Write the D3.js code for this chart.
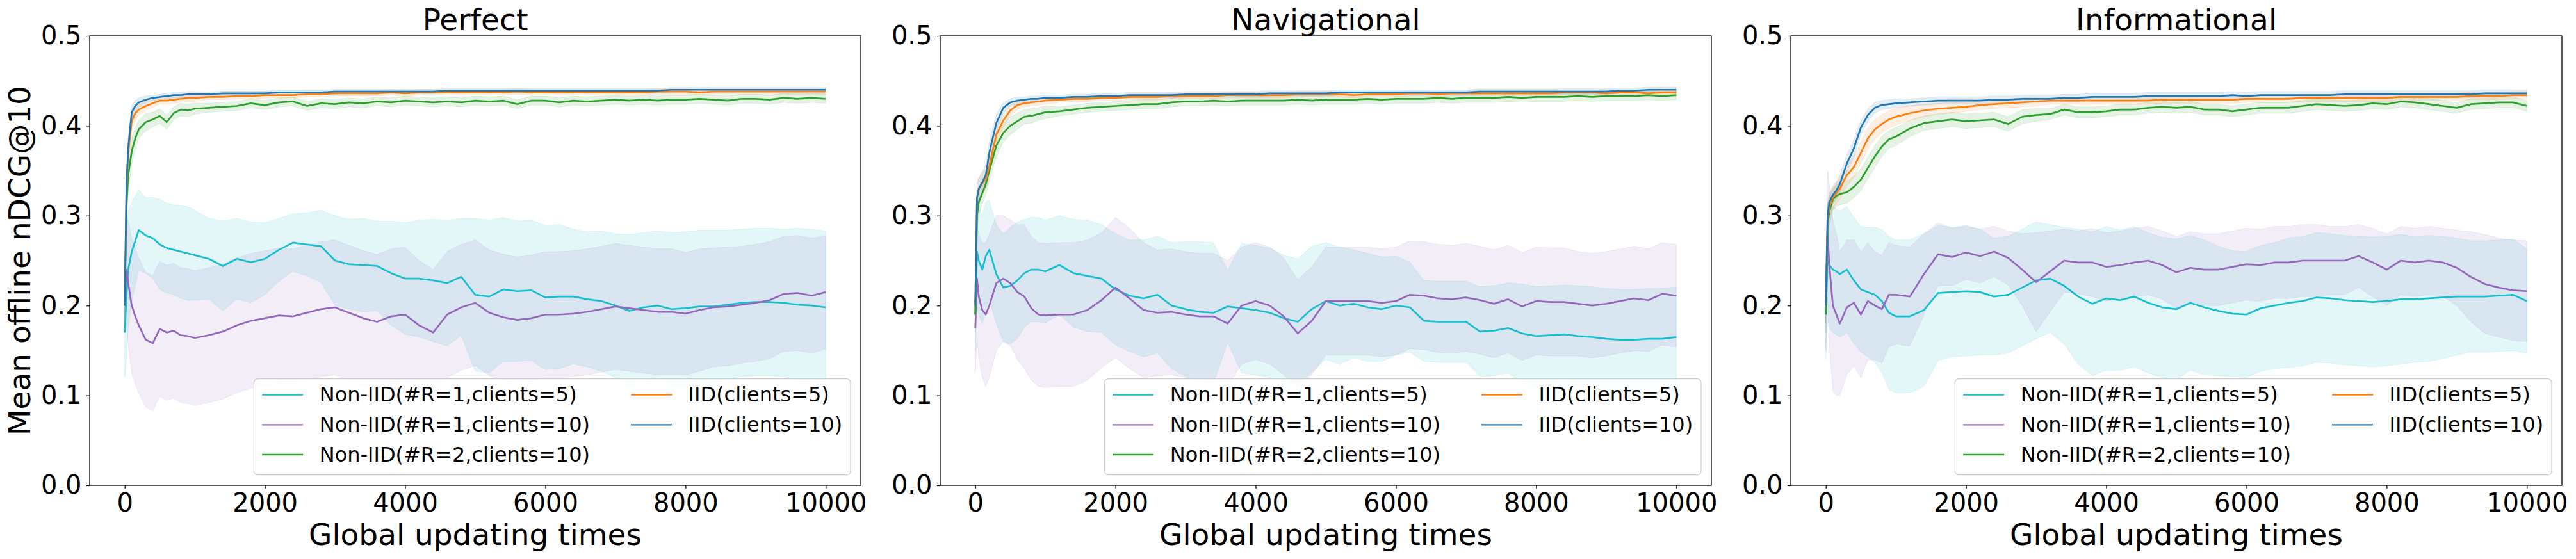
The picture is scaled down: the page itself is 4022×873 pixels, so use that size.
<!DOCTYPE html>
<html><head><meta charset="utf-8">
<script src="https://cdn.jsdelivr.net/npm/d3@7"></script>
<style>
body{margin:0;background:#fff}
svg{display:block}
text{font-family:"DejaVu Sans",sans-serif;fill:#000}
</style>
</head><body>
<svg id="chart" width="4022" height="873"></svg>
<script>
// ---------------- DATA ----------------
const gridX = [0,25,50,100,150,200,300,400,500,600,700,800,900,1000,
 1200,1400,1600,1800,2000,2200,2400,2600,2800,3000,
 3200,3400,3600,3800,4000,4200,4400,4600,4800,5000,
 5200,5400,5600,5800,6000,6200,6400,6600,6800,7000,
 7200,7400,7600,7800,8000,8200,8400,8600,8800,9000,
 9200,9400,9600,9800,10000];

const xTicks = [0,2000,4000,6000,8000,10000];
const yTicks = [0.0,0.1,0.2,0.3,0.4,0.5];
const panelTitles = ["Perfect","Navigational","Informational"];
const seriesLabels = ["Non-IID(#R=1,clients=5)","Non-IID(#R=1,clients=10)","Non-IID(#R=2,clients=10)","IID(clients=5)","IID(clients=10)"];
const seriesColors = ["#17becf","#9467bd","#2ca02c","#ff7f0e","#1f77b4"];

// ---- Perfect ----
const perf_c5_mean = [0.170,0.210,0.240,0.260,0.272,0.284,0.278,0.275,0.268,0.264,0.262,0.260,0.258,0.256,
 0.252,0.244,0.252,0.248,0.252,0.262,0.270,0.268,0.266,0.250,
 0.246,0.245,0.244,0.236,0.230,0.230,0.228,0.225,0.232,0.212,
 0.210,0.218,0.216,0.217,0.209,0.210,0.210,0.207,0.205,0.200,
 0.194,0.198,0.200,0.196,0.197,0.199,0.199,0.201,0.203,0.204,
 0.204,0.203,0.201,0.200,0.198];
const perf_c5_sd = [0.050,0.070,0.065,0.055,0.050,0.045,0.042,0.045,0.050,0.050,0.050,0.052,0.052,0.050,
 0.045,0.050,0.045,0.045,0.040,0.035,0.032,0.035,0.040,0.050,
 0.050,0.052,0.050,0.058,0.062,0.065,0.068,0.070,0.065,0.085,
 0.085,0.080,0.078,0.078,0.080,0.080,0.075,0.075,0.078,0.080,
 0.085,0.083,0.083,0.085,0.085,0.085,0.085,0.083,0.082,0.082,
 0.082,0.082,0.085,0.085,0.085];
const perf_r1c10_mean = [0.200,0.240,0.225,0.200,0.188,0.178,0.162,0.158,0.174,0.170,0.172,0.167,0.166,0.164,
 0.167,0.171,0.178,0.183,0.186,0.189,0.188,0.192,0.196,0.198,
 0.192,0.186,0.182,0.188,0.190,0.178,0.170,0.190,0.198,0.203,
 0.192,0.187,0.184,0.186,0.190,0.190,0.191,0.193,0.196,0.199,
 0.197,0.195,0.193,0.193,0.191,0.195,0.198,0.199,0.201,0.203,
 0.206,0.213,0.214,0.211,0.215];
const perf_r1c10_sd = [0.030,0.060,0.070,0.075,0.075,0.075,0.075,0.075,0.075,0.075,0.075,0.075,0.075,0.075,
 0.075,0.075,0.075,0.075,0.075,0.075,0.075,0.075,0.075,0.075,
 0.075,0.075,0.075,0.075,0.075,0.072,0.070,0.070,0.070,0.070,
 0.070,0.070,0.070,0.070,0.070,0.070,0.070,0.070,0.070,0.070,
 0.070,0.070,0.070,0.070,0.068,0.068,0.066,0.066,0.065,0.065,
 0.065,0.064,0.064,0.064,0.063];
const perf_r2c10_mean = [0.200,0.310,0.345,0.372,0.386,0.396,0.404,0.407,0.411,0.404,0.414,0.418,0.417,0.419,
 0.420,0.421,0.422,0.425,0.423,0.426,0.427,0.422,0.425,0.424,
 0.426,0.425,0.427,0.426,0.428,0.427,0.426,0.427,0.426,0.428,
 0.427,0.428,0.424,0.428,0.428,0.426,0.428,0.427,0.428,0.429,
 0.428,0.429,0.428,0.429,0.429,0.430,0.429,0.428,0.430,0.430,
 0.429,0.431,0.430,0.431,0.430];
const perf_r2c10_sd = [0.020,0.025,0.020,0.015,0.012,0.010,0.010,0.008,0.008,0.008,0.007,0.007,0.007,0.006,
 0.005,0.005,0.005,0.005,0.005,0.005,0.005,0.005,0.005,0.005,
 0.005,0.005,0.005,0.005,0.005,0.005,0.005,0.005,0.005,0.005,
 0.005,0.005,0.005,0.005,0.005,0.005,0.005,0.005,0.005,0.005,
 0.005,0.005,0.005,0.005,0.005,0.005,0.005,0.005,0.005,0.005,
 0.005,0.005,0.005,0.005,0.005];
const perf_iid5_mean = [0.200,0.330,0.370,0.405,0.414,0.418,0.422,0.425,0.428,0.428,0.429,0.430,0.431,0.431,
 0.432,0.432,0.433,0.433,0.434,0.434,0.434,0.435,0.435,0.436,
 0.436,0.436,0.436,0.437,0.436,0.437,0.437,0.437,0.437,0.437,
 0.437,0.437,0.438,0.437,0.437,0.437,0.437,0.437,0.437,0.437,
 0.437,0.437,0.438,0.438,0.438,0.437,0.438,0.438,0.438,0.438,
 0.438,0.438,0.438,0.438,0.438];
const perf_iid5_sd = [0.015,0.020,0.015,0.010,0.008,0.006,0.005,0.004,0.004,0.004,0.004,0.004,0.004,0.004,
 0.003,0.003,0.003,0.003,0.003,0.003,0.003,0.003,0.003,0.003,
 0.003,0.003,0.003,0.003,0.003,0.003,0.003,0.003,0.003,0.003,
 0.003,0.003,0.003,0.003,0.003,0.003,0.003,0.003,0.003,0.003,
 0.003,0.003,0.003,0.003,0.003,0.003,0.003,0.003,0.003,0.003,
 0.003,0.003,0.003,0.003,0.003];
const perf_iid10_mean = [0.200,0.335,0.375,0.415,0.422,0.426,0.429,0.431,0.432,0.433,0.434,0.434,0.435,0.435,
 0.435,0.436,0.436,0.436,0.436,0.437,0.437,0.437,0.437,0.438,
 0.438,0.438,0.438,0.438,0.438,0.438,0.438,0.439,0.439,0.439,
 0.439,0.439,0.439,0.439,0.439,0.439,0.439,0.439,0.439,0.439,
 0.439,0.439,0.439,0.440,0.440,0.440,0.440,0.440,0.440,0.440,
 0.440,0.440,0.440,0.440,0.440];
const perf_iid10_sd = [0.012,0.015,0.012,0.008,0.006,0.005,0.004,0.003,0.003,0.003,0.003,0.003,0.003,0.003,
 0.0025,0.0025,0.0025,0.0025,0.0025,0.0025,0.0025,0.0025,0.0025,0.0025,
 0.0025,0.0025,0.0025,0.0025,0.0025,0.0025,0.0025,0.0025,0.0025,0.0025,
 0.0025,0.0025,0.0025,0.0025,0.0025,0.0025,0.0025,0.0025,0.0025,0.0025,
 0.0025,0.0025,0.0025,0.0025,0.0025,0.0025,0.0025,0.0025,0.0025,0.0025,
 0.0025,0.0025,0.0025,0.0025,0.0025];

// ---- Navigational ----
const nav_c5_mean = [0.190,0.260,0.250,0.240,0.255,0.262,0.235,0.220,0.222,0.228,0.236,0.240,0.240,0.238,
 0.245,0.236,0.233,0.230,0.218,0.211,0.208,0.212,0.200,0.196,
 0.193,0.192,0.199,0.197,0.195,0.192,0.186,0.182,0.196,0.205,
 0.200,0.202,0.198,0.196,0.200,0.198,0.183,0.182,0.182,0.182,
 0.171,0.172,0.175,0.169,0.166,0.167,0.168,0.166,0.165,0.163,
 0.162,0.162,0.163,0.163,0.165];
const nav_c5_sd = [0.040,0.060,0.060,0.060,0.060,0.055,0.055,0.060,0.065,0.065,0.060,0.058,0.058,0.057,
 0.055,0.060,0.062,0.060,0.062,0.062,0.065,0.065,0.070,0.075,
 0.078,0.078,0.040,0.072,0.072,0.072,0.070,0.070,0.070,0.065,
 0.065,0.060,0.060,0.058,0.055,0.050,0.045,0.045,0.045,0.045,
 0.050,0.050,0.050,0.055,0.055,0.055,0.055,0.056,0.056,0.056,
 0.056,0.056,0.056,0.056,0.056];
const nav_r1c10_mean = [0.175,0.230,0.210,0.195,0.190,0.200,0.225,0.230,0.225,0.215,0.210,0.197,0.190,0.189,
 0.190,0.190,0.195,0.206,0.220,0.208,0.195,0.192,0.193,0.190,
 0.188,0.188,0.180,0.200,0.205,0.200,0.188,0.169,0.183,0.205,
 0.205,0.205,0.205,0.203,0.205,0.212,0.211,0.208,0.207,0.209,
 0.206,0.202,0.207,0.199,0.205,0.204,0.204,0.202,0.200,0.202,
 0.205,0.208,0.206,0.213,0.211];
const nav_r1c10_sd = [0.050,0.060,0.070,0.075,0.080,0.080,0.075,0.070,0.070,0.075,0.080,0.080,0.080,0.080,
 0.080,0.080,0.078,0.075,0.078,0.078,0.075,0.070,0.070,0.070,
 0.070,0.070,0.070,0.065,0.065,0.065,0.065,0.060,0.060,0.060,
 0.060,0.060,0.060,0.060,0.060,0.060,0.060,0.060,0.060,0.060,
 0.060,0.060,0.060,0.060,0.060,0.060,0.060,0.058,0.058,0.058,
 0.058,0.058,0.057,0.057,0.057];
const nav_r2c10_mean = [0.190,0.300,0.315,0.325,0.335,0.350,0.378,0.392,0.400,0.405,0.410,0.411,0.413,0.415,
 0.416,0.418,0.420,0.421,0.422,0.423,0.424,0.424,0.426,0.427,
 0.427,0.428,0.427,0.428,0.428,0.428,0.428,0.429,0.428,0.429,
 0.429,0.429,0.430,0.429,0.430,0.430,0.430,0.431,0.430,0.431,
 0.431,0.431,0.432,0.431,0.432,0.432,0.432,0.433,0.432,0.433,
 0.433,0.433,0.434,0.433,0.434];
const nav_r2c10_sd = [0.020,0.020,0.015,0.012,0.012,0.012,0.012,0.010,0.010,0.009,0.008,0.008,0.007,0.007,
 0.005,0.005,0.005,0.005,0.005,0.005,0.005,0.005,0.005,0.005,
 0.005,0.005,0.005,0.005,0.005,0.005,0.005,0.005,0.005,0.005,
 0.005,0.005,0.005,0.005,0.005,0.005,0.005,0.005,0.005,0.005,
 0.005,0.005,0.005,0.005,0.005,0.005,0.005,0.005,0.005,0.005,
 0.005,0.005,0.005,0.005,0.005];
const nav_iid5_mean = [0.200,0.320,0.330,0.336,0.340,0.355,0.390,0.406,0.417,0.423,0.425,0.426,0.427,0.428,
 0.429,0.430,0.430,0.431,0.431,0.432,0.432,0.432,0.433,0.433,
 0.433,0.433,0.434,0.434,0.434,0.434,0.434,0.435,0.435,0.435,
 0.435,0.434,0.435,0.435,0.435,0.436,0.436,0.435,0.436,0.436,
 0.436,0.436,0.436,0.436,0.436,0.436,0.437,0.437,0.437,0.436,
 0.437,0.437,0.436,0.437,0.437];
const nav_iid5_sd = [0.020,0.015,0.012,0.012,0.012,0.012,0.010,0.008,0.006,0.005,0.004,0.004,0.004,0.004,
 0.003,0.003,0.003,0.003,0.003,0.003,0.003,0.003,0.003,0.003,
 0.003,0.003,0.003,0.003,0.003,0.003,0.003,0.003,0.003,0.003,
 0.003,0.003,0.003,0.003,0.003,0.003,0.003,0.003,0.003,0.003,
 0.003,0.003,0.003,0.003,0.003,0.003,0.003,0.003,0.003,0.003,
 0.003,0.003,0.003,0.003,0.003];
const nav_iid10_mean = [0.200,0.320,0.330,0.337,0.345,0.370,0.403,0.420,0.426,0.428,0.429,0.430,0.430,0.431,
 0.431,0.432,0.432,0.433,0.433,0.434,0.434,0.434,0.434,0.435,
 0.435,0.435,0.435,0.435,0.435,0.436,0.436,0.436,0.436,0.436,
 0.437,0.437,0.437,0.437,0.437,0.437,0.437,0.437,0.437,0.437,
 0.438,0.438,0.438,0.438,0.438,0.438,0.438,0.438,0.438,0.438,
 0.439,0.439,0.440,0.440,0.440];
const nav_iid10_sd = [0.020,0.015,0.012,0.012,0.012,0.012,0.010,0.006,0.004,0.004,0.003,0.003,0.003,0.003,
 0.003,0.003,0.003,0.003,0.003,0.003,0.003,0.003,0.003,0.003,
 0.003,0.003,0.003,0.003,0.003,0.003,0.003,0.003,0.003,0.003,
 0.003,0.003,0.003,0.003,0.003,0.003,0.003,0.003,0.003,0.003,
 0.003,0.003,0.003,0.003,0.003,0.003,0.003,0.003,0.003,0.003,
 0.003,0.003,0.003,0.003,0.003];

// ---- Informational ----
const inf_c5_mean = [0.190,0.250,0.245,0.240,0.238,0.235,0.240,0.228,0.218,0.215,0.212,0.205,0.192,0.188,
 0.188,0.195,0.214,0.215,0.216,0.215,0.210,0.212,0.220,0.228,
 0.230,0.222,0.210,0.202,0.208,0.206,0.210,0.203,0.198,0.196,
 0.203,0.198,0.194,0.191,0.190,0.197,0.200,0.203,0.205,0.209,
 0.208,0.206,0.205,0.204,0.205,0.207,0.207,0.208,0.209,0.210,
 0.210,0.210,0.211,0.212,0.205];
const inf_c5_sd = [0.050,0.065,0.070,0.070,0.070,0.070,0.070,0.070,0.070,0.072,0.075,0.080,0.085,0.085,
 0.085,0.085,0.075,0.072,0.072,0.070,0.065,0.065,0.065,0.065,
 0.060,0.065,0.075,0.080,0.080,0.078,0.078,0.078,0.078,0.078,
 0.075,0.075,0.072,0.070,0.070,0.070,0.070,0.072,0.072,0.072,
 0.072,0.072,0.072,0.072,0.072,0.072,0.070,0.070,0.068,0.065,
 0.062,0.062,0.062,0.062,0.058];
const inf_r1c10_mean = [0.200,0.280,0.245,0.200,0.190,0.180,0.198,0.203,0.190,0.205,0.200,0.196,0.212,0.212,
 0.210,0.235,0.257,0.254,0.259,0.255,0.260,0.253,0.240,0.226,
 0.238,0.250,0.248,0.248,0.243,0.245,0.248,0.250,0.245,0.237,
 0.242,0.240,0.240,0.243,0.246,0.245,0.248,0.248,0.250,0.250,
 0.250,0.250,0.255,0.248,0.240,0.250,0.248,0.250,0.248,0.242,
 0.232,0.224,0.220,0.217,0.216];
const inf_r1c10_sd = [0.050,0.070,0.090,0.095,0.090,0.080,0.075,0.070,0.070,0.065,0.060,0.060,0.058,0.055,
 0.055,0.045,0.035,0.032,0.030,0.030,0.028,0.030,0.040,0.055,
 0.045,0.035,0.035,0.038,0.038,0.038,0.038,0.038,0.038,0.040,
 0.040,0.040,0.040,0.040,0.040,0.040,0.040,0.040,0.040,0.040,
 0.038,0.038,0.035,0.038,0.040,0.038,0.038,0.038,0.038,0.042,
 0.050,0.055,0.055,0.056,0.056];
const inf_r2c10_mean = [0.190,0.290,0.305,0.318,0.322,0.324,0.326,0.332,0.340,0.353,0.366,0.377,0.385,0.388,
 0.397,0.403,0.405,0.407,0.405,0.406,0.407,0.402,0.410,0.412,
 0.413,0.418,0.415,0.415,0.416,0.418,0.418,0.420,0.421,0.420,
 0.421,0.418,0.418,0.416,0.418,0.420,0.420,0.420,0.422,0.424,
 0.423,0.422,0.423,0.425,0.424,0.427,0.426,0.424,0.422,0.420,
 0.424,0.425,0.426,0.426,0.422];
const inf_r2c10_sd = [0.020,0.020,0.015,0.012,0.012,0.012,0.012,0.012,0.012,0.012,0.012,0.011,0.010,0.010,
 0.009,0.008,0.008,0.008,0.008,0.008,0.008,0.008,0.008,0.007,
 0.006,0.006,0.006,0.006,0.006,0.006,0.006,0.006,0.006,0.006,
 0.006,0.006,0.006,0.006,0.006,0.006,0.006,0.006,0.006,0.006,
 0.006,0.006,0.006,0.006,0.006,0.006,0.006,0.006,0.006,0.006,
 0.006,0.006,0.006,0.006,0.006];
const inf_iid5_mean = [0.200,0.295,0.310,0.320,0.325,0.330,0.345,0.354,0.370,0.386,0.396,0.402,0.407,0.410,
 0.414,0.417,0.419,0.420,0.421,0.423,0.424,0.425,0.426,0.427,
 0.428,0.428,0.428,0.428,0.428,0.428,0.428,0.428,0.429,0.429,
 0.429,0.429,0.429,0.429,0.430,0.430,0.430,0.430,0.431,0.431,
 0.431,0.431,0.431,0.431,0.431,0.432,0.432,0.432,0.432,0.432,
 0.433,0.433,0.433,0.434,0.434];
const inf_iid5_sd = [0.020,0.015,0.012,0.012,0.012,0.012,0.012,0.012,0.012,0.012,0.011,0.010,0.010,0.009,
 0.008,0.007,0.006,0.006,0.005,0.005,0.005,0.005,0.005,0.005,
 0.004,0.004,0.004,0.004,0.004,0.004,0.004,0.004,0.004,0.004,
 0.004,0.004,0.004,0.004,0.004,0.004,0.004,0.004,0.004,0.004,
 0.004,0.004,0.004,0.004,0.004,0.004,0.004,0.004,0.004,0.004,
 0.004,0.004,0.004,0.004,0.004];
const inf_iid10_mean = [0.200,0.300,0.315,0.323,0.328,0.335,0.358,0.375,0.398,0.412,0.420,0.423,0.424,0.425,
 0.426,0.427,0.428,0.428,0.428,0.428,0.429,0.429,0.430,0.430,
 0.430,0.431,0.431,0.432,0.432,0.432,0.432,0.433,0.433,0.433,
 0.433,0.433,0.433,0.434,0.433,0.434,0.434,0.434,0.434,0.434,
 0.434,0.435,0.435,0.435,0.435,0.435,0.435,0.435,0.435,0.435,
 0.435,0.436,0.436,0.436,0.436];
const inf_iid10_sd = [0.020,0.012,0.010,0.010,0.010,0.010,0.010,0.010,0.008,0.007,0.006,0.005,0.005,0.005,
 0.004,0.004,0.004,0.004,0.004,0.004,0.004,0.004,0.004,0.004,
 0.004,0.004,0.004,0.004,0.004,0.004,0.004,0.004,0.004,0.004,
 0.004,0.004,0.004,0.004,0.004,0.004,0.004,0.004,0.004,0.004,
 0.004,0.004,0.004,0.004,0.004,0.004,0.004,0.004,0.004,0.004,
 0.004,0.004,0.004,0.004,0.004];

const panelData = [
  [[perf_c5_mean,perf_c5_sd],[perf_r1c10_mean,perf_r1c10_sd],[perf_r2c10_mean,perf_r2c10_sd],[perf_iid5_mean,perf_iid5_sd],[perf_iid10_mean,perf_iid10_sd]],
  [[nav_c5_mean,nav_c5_sd],[nav_r1c10_mean,nav_r1c10_sd],[nav_r2c10_mean,nav_r2c10_sd],[nav_iid5_mean,nav_iid5_sd],[nav_iid10_mean,nav_iid10_sd]],
  [[inf_c5_mean,inf_c5_sd],[inf_r1c10_mean,inf_r1c10_sd],[inf_r2c10_mean,inf_r2c10_sd],[inf_iid5_mean,inf_iid5_sd],[inf_iid10_mean,inf_iid10_sd]]
];
panelData.forEach((p,pi)=>p.forEach((s,si)=>s.forEach((a,ai)=>{
  if(a.length!==gridX.length) throw new Error(`length mismatch panel ${pi} series ${si} arr ${ai}: ${a.length}`);
})));

// ---------------- LAYOUT ----------------
const svg = d3.select("#chart");
const panelLefts = [140,1468,2796];
const PW = 1204, PT = 56, PB = 758, PH = PB-PT;
const x = d3.scaleLinear().domain([-500,10500]).range([0,PW]);
const y = d3.scaleLinear().domain([0,0.5]).range([PH,0]);

const defs = svg.append("defs");
defs.append("clipPath").attr("id","plotclip").append("rect")
  .attr("x",0).attr("y",0).attr("width",PW).attr("height",PH);

panelLefts.forEach((left,pi)=>{
  const g = svg.append("g").attr("transform",`translate(${left},${PT})`);
  const plot = g.append("g").attr("clip-path","url(#plotclip)");

  panelData[pi].forEach(([mean,sd],si)=>{
    const pts = gridX.map((xv,i)=>({x:xv,m:mean[i],s:sd[i]}));
    const area = d3.area().x(d=>x(d.x)).y0(d=>y(d.m-d.s)).y1(d=>y(d.m+d.s));
    plot.append("path").datum(pts).attr("d",area)
      .attr("fill",seriesColors[si]).attr("fill-opacity",0.12)
      .attr("stroke",seriesColors[si]).attr("stroke-opacity",0.12).attr("stroke-width",1);
  });
  panelData[pi].forEach(([mean,sd],si)=>{
    const pts = gridX.map((xv,i)=>({x:xv,m:mean[i]}));
    const line = d3.line().x(d=>x(d.x)).y(d=>y(d.m));
    plot.append("path").datum(pts).attr("d",line)
      .attr("fill","none").attr("stroke",seriesColors[si]).attr("stroke-width",2.7)
      .attr("stroke-linejoin","round");
  });

  // axes
  const xa = g.append("g").attr("transform",`translate(0,${PH})`)
    .call(d3.axisBottom(x).tickValues(xTicks).tickFormat(d3.format("d")).tickSize(5).tickPadding(7.6));
  const ya = g.append("g")
    .call(d3.axisLeft(y).tickValues(yTicks).tickFormat(d3.format(".1f")).tickSize(5).tickPadding(7.5));
  [xa,ya].forEach(a=>{
    a.select(".domain").remove();
    a.selectAll("line").attr("stroke","#000").attr("stroke-width",1.2);
    a.selectAll("text").attr("font-size",40).attr("font-family","DejaVu Sans").attr("fill","#000");
  });
  g.append("rect").attr("x",0).attr("y",0).attr("width",PW).attr("height",PH)
    .attr("fill","none").attr("stroke","#000").attr("stroke-width",1.3);

  // title + x label
  g.append("text").attr("x",PW/2).attr("y",47-PT).attr("text-anchor","middle")
    .attr("font-size",47).text(panelTitles[pi]);
  g.append("text").attr("x",PW/2).attr("y",851-PT).attr("text-anchor","middle")
    .attr("font-size",47).text("Global updating times");

  // legend
  const fs = 32;
  const lg = g.append("g");
  const tmp = lg.append("text").attr("font-size",fs);
  const widths = seriesLabels.map(s=>{tmp.text(s);return tmp.node().getComputedTextLength();});
  tmp.remove();
  const w1 = Math.max(widths[0],widths[1],widths[2]);
  const w2 = Math.max(widths[3],widths[4]);
  const bp = 0.4*fs, hl = 2*fs, hp = 0.8*fs, cs = 2*fs;
  const totalW = 2*bp + 2*(hl+hp) + cs + w1 + w2;
  const boxRight = PW - 0.5*fs;
  const boxLeft = boxRight - totalW;
  const boxTop = 591.7-PT, boxBottom = 741.7-PT;
  lg.append("rect").attr("x",boxLeft).attr("y",boxTop).attr("width",totalW).attr("height",boxBottom-boxTop)
    .attr("rx",6).attr("ry",6).attr("fill","#fff").attr("fill-opacity",0.8)
    .attr("stroke","#cccccc").attr("stroke-width",1.2);
  const rowY = [616.7-PT, 663.3-PT, 710-PT];
  const colX = [boxLeft+bp, boxLeft+bp+hl+hp+w1+cs];
  seriesLabels.forEach((lab,si)=>{
    const c = si<3?0:1, r = si<3?si:si-3;
    lg.append("line").attr("x1",colX[c]).attr("x2",colX[c]+hl).attr("y1",rowY[r]).attr("y2",rowY[r])
      .attr("stroke",seriesColors[si]).attr("stroke-width",2.3);
    lg.append("text").attr("x",colX[c]+hl+hp).attr("y",rowY[r]+10.5).attr("font-size",fs).text(lab);
  });
});

// y label
svg.append("text").attr("transform",`translate(47,${(PT+PB)/2}) rotate(-90)`)
  .attr("text-anchor","middle").attr("font-size",47).text("Mean offline nDCG@10");
</script>
</body></html>
